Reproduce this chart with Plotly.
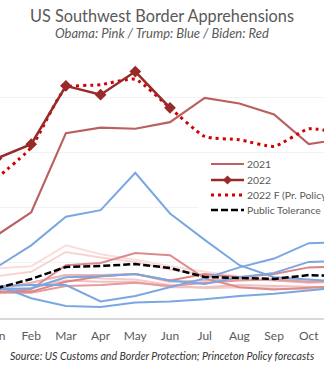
import plotly.graph_objects as go

months = ["Jan", "Feb", "Mar", "Apr", "May", "Jun", "Jul", "Aug", "Sep", "Oct", "Nov", "Dec"]

# Monthly apprehensions, thousands
o2009 = [45, 47, 66, 58, 53, 47, 42, 38, 35, 34, 33]
o2010 = [38, 42, 60, 55, 51, 44, 39, 36, 35, 33, 32]
o2011 = [25, 32, 39, 36, 35, 30, 27, 28, 27, 26, 27]
o2012 = [23, 27, 34, 33, 33, 28, 28, 30, 29, 29, 28]
o2013 = [27, 32, 39, 39, 40, 33, 34, 36, 34, 32, 33]
o2014 = [23, 26, 48, 50, 59, 57, 36, 28, 26, 27, 29]
o2015 = [23, 23, 29, 30, 32, 29, 32, 34, 35, 33, 34]
o2016 = [24, 24, 33, 38, 40, 34, 40, 37, 40, 46, 47]

t2017 = [30, 18, 11, 10, 14, 15, 17, 20, 22, 25, 28]
t2018 = [26, 27, 37, 38, 40, 34, 31, 37, 41, 51, 52]
t2019 = [46, 66, 92, 98, 132, 95, 71, 48, 37, 35, 33]
t2020 = [29, 30, 30, 15, 20, 28, 36, 46, 54, 68, 69]

b2021 = [75, 96, 168, 173, 172, 178, 200, 195, 185, 158, 163, 170]
b2022 = [145, 158, 211, 203, 224, 191]
f2022 = [127, 155, 209, 212, 217, 191, 165, 162, 156, 172, 168, 168]
public_tol = [27, 35.5, 46.4, 47.3, 49, 45.5, 37.3, 36.4, 35.5, 39, 38, 37]

legend_names = ["2021", "2022", "2022 F (Pr. Policy)", "Public Tolerance"]

obama = [
    (o2009, "rgb(249,221,221)"),
    (o2010, "rgb(247,212,212)"),
    (o2011, "rgb(244,202,202)"),
    (o2012, "rgb(241,192,192)"),
    (o2013, "rgb(237,180,180)"),
    (o2015, "rgb(228,155,155)"),
    (o2016, "rgb(220,132,132)"),
    (o2014, "rgb(222,138,138)"),
]
trump = [t2017, t2018, t2019, t2020]

C2021 = "rgb(186,96,96)"
C2022 = "rgb(152,42,42)"
CF = "rgb(210,0,0)"
BLUE = "rgb(122,167,225)"

fig = go.Figure()
for vals, col in obama:
    fig.add_trace(go.Scatter(x=list(range(len(vals))), y=vals, mode="lines",
                             line=dict(color=col, width=2), showlegend=False, hoverinfo="skip"))
for vals in trump:
    fig.add_trace(go.Scatter(x=list(range(len(vals))), y=vals, mode="lines",
                             line=dict(color=BLUE, width=2), showlegend=False, hoverinfo="skip"))

fig.add_trace(go.Scatter(x=list(range(len(public_tol))), y=public_tol, mode="lines", name=legend_names[3],
                         line=dict(color="black", width=2.5, dash="7px,3px"), showlegend=False))
fig.add_trace(go.Scatter(x=list(range(len(b2021))), y=b2021, mode="lines", name=legend_names[0],
                         line=dict(color=C2021, width=2.2), showlegend=False))
fig.add_trace(go.Scatter(x=list(range(len(f2022))), y=f2022, mode="lines", name=legend_names[2],
                         line=dict(color=CF, width=3, dash="3px,4px", shape="spline", smoothing=0.5),
                         showlegend=False))
fig.add_trace(go.Scatter(x=list(range(len(b2022))), y=b2022, mode="lines+markers", name=legend_names[1],
                         line=dict(color=C2022, width=2.5),
                         marker=dict(symbol="diamond", size=9, color=C2022), showlegend=False))

gray = "rgb(89,89,89)"


def px(x):
    return x / 324


def py(y):
    return (318 - y) / 268


# manual legend (compact spacing like the reference)
shapes = [dict(type="rect", xref="paper", yref="paper", x0=px(198), x1=px(330), y0=py(219), y1=py(156),
               fillcolor="white", line=dict(width=0), layer="above")]
annotations = []
rows = [164, 180, 195, 210]
styles = [
    dict(color=C2021, width=2.2),
    dict(color=C2022, width=2.5),
    dict(color=CF, width=3, dash="3px,4px"),
    dict(color="black", width=2.5, dash="7px,3px"),
]
for name, ry, st in zip(legend_names, rows, styles):
    shapes.append(dict(type="line", xref="paper", yref="paper", x0=px(211), x1=px(244), y0=py(ry), y1=py(ry),
                       line=st, layer="above"))
    annotations.append(dict(text=name, xref="paper", yref="paper", x=px(245), y=py(ry), xanchor="left",
                            yanchor="middle", showarrow=False, font=dict(size=10.4, color=gray)))
# diamond symbol for 2022 sample
cx, cy, r = 227.5, 180, 4.5
shapes.append(dict(type="path", xref="paper", yref="paper",
                   path=f"M {px(cx - r)} {py(cy)} L {px(cx)} {py(cy - r)} L {px(cx + r)} {py(cy)} L {px(cx)} {py(cy + r)} Z",
                   fillcolor=C2022, line=dict(width=0), layer="above"))

annotations += [
    dict(text="US Southwest Border Apprehensions", xref="paper", yref="paper", x=0.5, y=py(16),
         xanchor="center", yanchor="middle", showarrow=False, font=dict(size=16.3, color=gray)),
    dict(text="<i>Obama: Pink / Trump: Blue / Biden: Red</i>", xref="paper", yref="paper", x=0.5, y=py(33),
         xanchor="center", yanchor="middle", showarrow=False, font=dict(size=13, color=gray)),
    dict(text="<i>Source: US Customs and Border Protection; Princeton Policy forecasts</i>",
         xref="paper", yref="paper", x=px(317), y=py(356), xanchor="right", yanchor="middle",
         showarrow=False, font=dict(size=10.6, color="rgb(50,50,50)")),
    dict(text=months[0], xref="paper", yref="paper", x=px(-3.5), y=py(335), xanchor="center", yanchor="middle",
         showarrow=False, font=dict(size=12, color=gray)),
]

fig.update_layout(
    width=324, height=378,
    margin=dict(l=0, r=0, t=50, b=60, autoexpand=False),
    paper_bgcolor="white", plot_bgcolor="white",
    font=dict(family="Lato", color=gray),
    showlegend=False,
    xaxis=dict(range=[0.101, 9.438], tickvals=list(range(1, 10)), ticktext=months[1:10],
               showgrid=False, zeroline=False, showline=True, linecolor="rgb(217,217,217)", linewidth=2,
               ticks="", tickfont=dict(size=12, color=gray), ticklabelstandoff=6),
    yaxis=dict(range=[0, 243.6], dtick=50, showticklabels=False, showgrid=True,
               gridcolor="rgb(242,242,242)", gridwidth=1, zeroline=False, showline=False),
    shapes=shapes,
    annotations=annotations,
)

fig.write_html("out.html")
